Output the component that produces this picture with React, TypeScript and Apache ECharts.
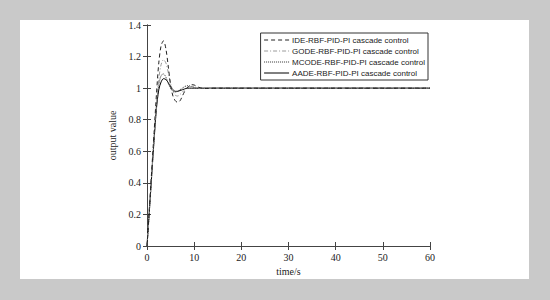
import React, { useEffect, useRef } from "react";
import * as echarts from "echarts";

const timeS = [0, 0.5, 1, 1.5, 2, 2.5, 3, 3.5, 4, 4.5, 5, 5.5, 6, 6.5, 7, 7.5, 8, 8.5, 9, 9.5, 10, 10.5, 11, 12, 13, 14, 15, 20, 30, 40, 50, 60];
const ideValues = [0, 0.24, 0.48, 0.72, 0.96, 1.16, 1.27, 1.3, 1.25, 1.14, 1.02, 0.95, 0.92, 0.91, 0.92, 0.95, 0.98, 1.0, 1.015, 1.022, 1.02, 1.012, 1.005, 0.998, 0.998, 1.0, 1.0, 1.0, 1.0, 1.0, 1.0, 1.0];
const godeValues = [0, 0.23, 0.46, 0.69, 0.9, 1.06, 1.15, 1.18, 1.16, 1.1, 1.03, 0.98, 0.955, 0.95, 0.96, 0.975, 0.99, 1.0, 1.008, 1.01, 1.008, 1.004, 1.0, 0.999, 1.0, 1.0, 1.0, 1.0, 1.0, 1.0, 1.0, 1.0];
const mcodeValues = [0, 0.22, 0.45, 0.68, 0.88, 1.02, 1.08, 1.09, 1.07, 1.03, 1.0, 0.98, 0.975, 0.98, 0.99, 1.0, 1.01, 1.015, 1.015, 1.01, 1.005, 1.0, 0.998, 0.999, 1.0, 1.0, 1.0, 1.0, 1.0, 1.0, 1.0, 1.0];
const aadeValues = [0, 0.22, 0.45, 0.67, 0.87, 0.99, 1.04, 1.06, 1.055, 1.035, 1.01, 0.99, 0.98, 0.98, 0.985, 0.99, 0.995, 1.0, 1.0, 1.0, 1.0, 1.0, 1.0, 1.0, 1.0, 1.0, 1.0, 1.0, 1.0, 1.0, 1.0, 1.0];

const seriesNames = [
  "IDE-RBF-PID-PI cascade control",
  "GODE-RBF-PID-PI cascade control",
  "MCODE-RBF-PID-PI cascade control",
  "AADE-RBF-PID-PI cascade control",
];
const xTicks = [0, 60, 10];
const yTicks = [0, 1.4, 0.2];

const pair = (vals: number[]) => timeS.map((t, i) => [t, vals[i]]);

export default function App() {
  const ref = useRef<HTMLDivElement>(null);
  useEffect(() => {
    if (!ref.current) return;
    const chart = echarts.init(ref.current, null, { renderer: "svg" });
    const serif = "Liberation Serif";
    const axisCommon = {
      axisLine: { show: true, lineStyle: { color: "#444", width: 1 } },
      axisTick: { show: true, inside: true, length: 4, lineStyle: { color: "#444" } },
      splitLine: { show: false },
    };
    const styles = [
      { color: "#222", type: [4, 3] },
      { color: "#9a9a9a", type: [4, 2, 1, 2] },
      { color: "#333", type: [1, 1] },
      { color: "#000", type: "solid" },
    ];
    const vals = [ideValues, godeValues, mcodeValues, aadeValues];
    chart.setOption({
      animation: false,
      backgroundColor: "#c9c9c9",
      graphic: [
        {
          type: "rect",
          z: -10,
          silent: true,
          shape: { x: 20, y: 20, width: 509, height: 259 },
          style: { fill: "#ffffff" },
        },
      ],
      grid: { left: 147, top: 25, right: 120, bottom: 54, containLabel: false },
      legend: {
        orient: "vertical",
        right: 122,
        top: 33,
        itemWidth: 25,
        itemHeight: 8,
        itemGap: 3,
        padding: [3, 3, 3, 3],
        borderColor: "#333",
        borderWidth: 1,
        backgroundColor: "#fff",
        align: "left",
        itemStyle: { opacity: 0, borderWidth: 0 },
        lineStyle: { width: 1 },
        textStyle: { fontFamily: "Liberation Sans", fontSize: 8, color: "#222", padding: [0, 0, 0, -2] },
        data: seriesNames.map((n) => ({ name: n })),
      },
      xAxis: [
        {
          type: "value",
          min: xTicks[0],
          max: xTicks[1],
          interval: xTicks[2],
          name: "time/s",
          nameLocation: "middle",
          nameGap: 20,
          nameTextStyle: { fontFamily: serif, fontSize: 10, color: "#222" },
          axisLabel: { fontFamily: serif, fontSize: 10, color: "#222", margin: 6 },
          ...axisCommon,
        },
        {
          type: "value",
          position: "top",
          min: xTicks[0],
          max: xTicks[1],
          interval: xTicks[2],
          axisLabel: { show: false },
          ...axisCommon,
        },
      ],
      yAxis: [
        {
          type: "value",
          min: yTicks[0],
          max: yTicks[1],
          interval: yTicks[2],
          name: "output value",
          nameLocation: "middle",
          nameGap: 26,
          nameTextStyle: { fontFamily: serif, fontSize: 10, color: "#222" },
          axisLabel: { fontFamily: serif, fontSize: 10, color: "#222", margin: 6 },
          ...axisCommon,
        },
        {
          type: "value",
          position: "right",
          min: yTicks[0],
          max: yTicks[1],
          interval: yTicks[2],
          axisLabel: { show: false },
          ...axisCommon,
        },
      ],
      series: seriesNames.map((name, i) => ({
        name,
        type: "line",
        data: pair(vals[i]),
        showSymbol: false,
        symbol: "none",
        smooth: 0.3,
        lineStyle: { color: styles[i].color, width: 1, type: styles[i].type },
        itemStyle: { color: styles[i].color },
        z: 10 - i,
      })),
    });
    return () => chart.dispose();
  }, []);
  return (
    <div
      ref={ref}
      style={{ position: "fixed", left: 0, top: 0, width: 550, height: 300 }}
    />
  );
}
